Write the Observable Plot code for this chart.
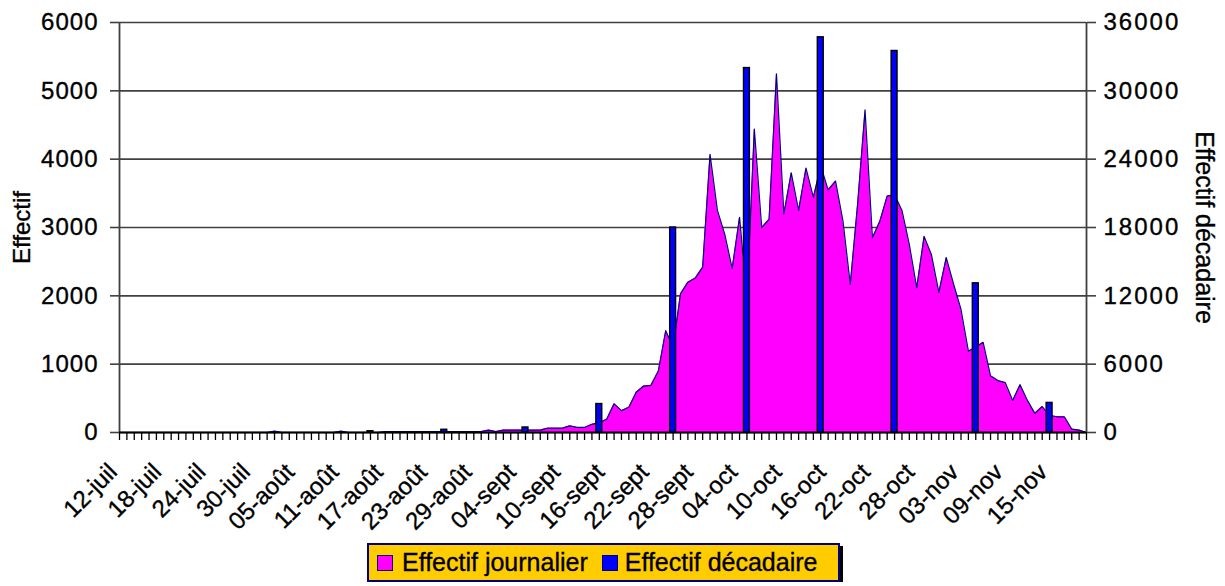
<!DOCTYPE html>
<html><head><meta charset="utf-8">
<script src="https://cdn.jsdelivr.net/npm/d3@7"></script>
<script src="https://cdn.jsdelivr.net/npm/@observablehq/plot@0.6"></script>
<style>
body{margin:0;background:#fff;font-family:"Liberation Sans",Arial,sans-serif;}
#chart{width:1225px;}
#chart svg text{stroke:#000;stroke-width:0.35px;}
.legend{margin-left:367px;margin-top:3px;width:469px;height:35px;background:#FFCC00;border:2px solid #000080;box-shadow:3px 3px 0 #000;display:flex;align-items:center;font-size:25px;color:#000;box-sizing:content-box;white-space:nowrap;-webkit-text-stroke:0.35px #000;}
.sw{display:inline-block;width:14px;height:14px;border:1.5px solid #000080;}
</style></head><body>
<div id="chart"></div>
<script>
// ---- data ----
const startDay = [2000, 6, 12]; // 12 juillet
const dailyValues = [0,0,0,0,0,0,0,0,0,0, 0,0,0,0,0,0,0,0,0,0, 0,20,0,0,0,0,0,0,0,0,
  20,0,0,0,0,0,15,15,15,15, 15,15,15,15,15,15,15,15,15,15, 35,15,35,35,35,35,35,35,64,64,
  64,98,74,74,120,145,195,420,320,370, 590,680,690,900,1490,1250,2030,2200,2260,2420,
  4070,3250,2900,2400,3150,1950,4440,3000,3120,5250, 3200,3800,3250,3870,3440,3900,3550,3680,3100,2170,
  3350,4720,2850,3090,3460,3480,3250,2750,2120,2870, 2600,2050,2560,2170,1800,1190,1250,1320,830,760,
  730,470,700,470,280,380,250,230,230,50, 35,0];
const decadeDates = ["2000-08-15","2000-08-25","2000-09-05","2000-09-15","2000-09-25","2000-10-05","2000-10-15","2000-10-25","2000-11-05","2000-11-15"];
const decadeValues = [110,240,440,2500,18000,32000,34700,33500,13100,2600];
const tickLabels = ["12-juil","18-juil","24-juil","30-juil","05-août","11-août","17-août","23-août","29-août","04-sept","10-sept","16-sept","22-sept","28-sept","04-oct","10-oct","16-oct","22-oct","28-oct","03-nov","09-nov","15-nov"];
const leftTicks = [0,1000,2000,3000,4000,5000,6000];
const rightTicks = [0,6000,12000,18000,24000,30000,36000];
const seriesNames = ["Effectif journalier","Effectif décadaire"];
const axisTitles = ["Effectif","Effectif décadaire"];

// ---- build ----
const start = new Date(Date.UTC(...startDay));
const daily = dailyValues.map((v,i)=>({date: d3.utcDay.offset(start,i), value: v}));
const end = daily[daily.length-1].date;
const ratio = rightTicks[rightTicks.length-1] / leftTicks[leftTicks.length-1];
const decades = decadeDates.map((s,i)=>({date: new Date(s+"T00:00Z"), value: decadeValues[i]}));
const tickDates = tickLabels.map((l,i)=>d3.utcDay.offset(start, 6*i));
const labelOf = new Map(tickDates.map((d,i)=>[+d, tickLabels[i]]));
const halfBar = 0.4*864e5;
const font = "'Liberation Sans', Arial, sans-serif";

const chart = Plot.plot({
  width: 1225, height: 540,
  marginLeft: 119, marginRight: 139, marginTop: 22, marginBottom: 108,
  x: {type: "utc", domain: [start, end]},
  y: {domain: [0, 6000]},
  style: {fontFamily: font, color: "#000", background: "#fff", overflow: "visible"},
  marks: [
    Plot.gridY(leftTicks, {stroke: "#404040", strokeOpacity: 1, strokeWidth: 1.6}),
    Plot.areaY(daily, {x: "date", y: "value", fill: "#FF00FF", curve: "linear"}),
    Plot.lineY(daily, {x: "date", y: "value", stroke: "#000080", strokeWidth: 1.2}),
    Plot.rect(decades, {x1: d => new Date(+d.date - halfBar), x2: d => new Date(+d.date + halfBar), y1: 0, y2: d => d.value / ratio, fill: "#0000FF", stroke: "#000", strokeWidth: 1.4}),
    Plot.ruleX([start, end], {stroke: "#404040", strokeWidth: 1.8}),
    Plot.ruleY([0], {stroke: "#000", strokeWidth: 2}),
    Plot.axisX(daily.map(d=>d.date), {tickSize: 8, tickFormat: () => "", stroke: "#000", strokeWidth: 1.3, label: null}),
    Plot.text(tickDates, {x: d=>d, text: d => labelOf.get(+d), frameAnchor: "bottom", rotate: -45, textAnchor: "end", lineAnchor: "top", dx: -13, dy: 29, fontSize: 24}),
    Plot.axisY(leftTicks, {anchor: "left", tickSize: 9, tickPadding: 12, tickFormat: d => String(d), fontSize: 24, stroke: "#404040", strokeWidth: 1.6, label: null}),
    Plot.axisY(rightTicks.map(v => v/ratio), {anchor: "right", tickSize: 9, tickPadding: 8, tickFormat: d => String(Math.round(d*ratio)), fontSize: 24, stroke: "#404040", strokeWidth: 1.6, label: null}),
    Plot.text([axisTitles[0]], {text: d=>d, frameAnchor: "left", textAnchor: "middle", dx: -97, rotate: -90, fontSize: 24}),
    Plot.text([axisTitles[1]], {text: d=>d, frameAnchor: "right", textAnchor: "middle", dx: 117, rotate: 90, fontSize: 25})
  ]
});
const ax = d3.select(chart).selectAll('[aria-label="y-axis tick label"]');
ax.filter((d,i)=>i===0).selectAll("text").attr("letter-spacing", "1px");
ax.filter((d,i)=>i===1).selectAll("text").attr("letter-spacing", "2px");
document.getElementById("chart").appendChild(chart);

const leg = document.createElement("div");
leg.className = "legend";
const colors = ["#FF00FF", "#0000FF"];
const gaps = [[8,9],[14,7]];
seriesNames.forEach((name,i)=>{
  const sw = document.createElement("span"); sw.className = "sw"; sw.style.background = colors[i];
  sw.style.marginLeft = gaps[i][0]+"px"; sw.style.marginRight = gaps[i][1]+"px";
  const t = document.createElement("span"); t.textContent = name;
  leg.appendChild(sw); leg.appendChild(t);
});
document.body.appendChild(leg);
</script>
</body></html>
